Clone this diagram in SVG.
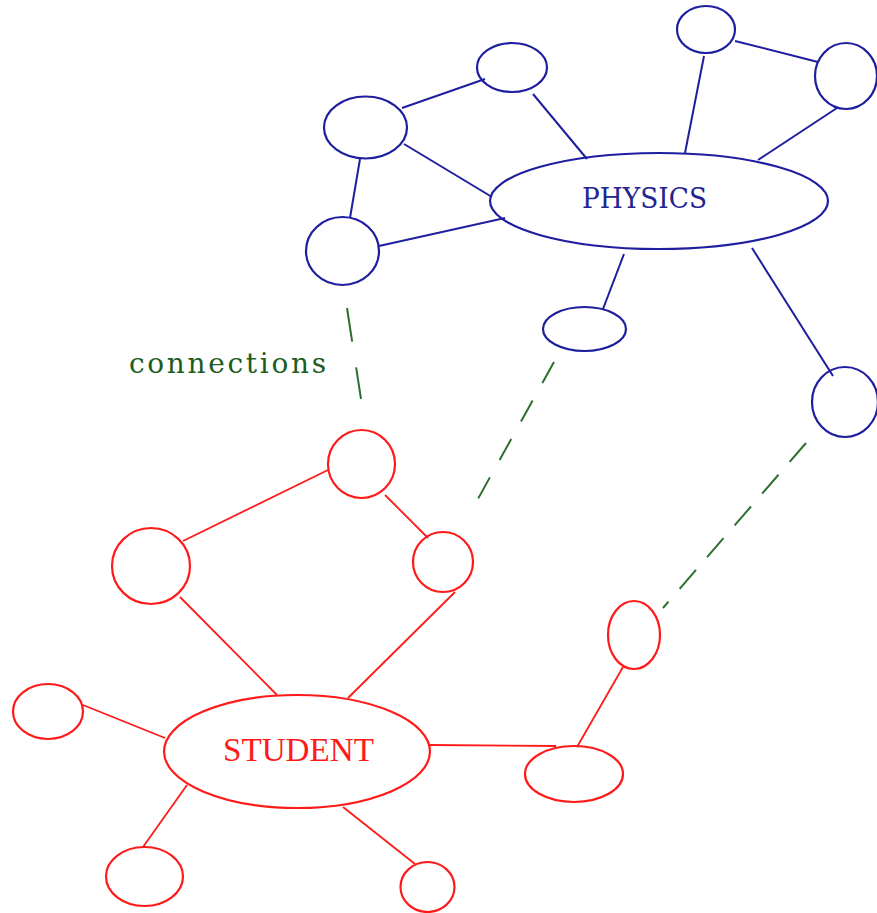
<svg xmlns="http://www.w3.org/2000/svg" width="877" height="913" viewBox="0 0 877 913">
  <style>
    .bg { fill: #ffffff; }
    .blue { fill: none; stroke: #1e1e9e; stroke-width: 2.2; }
    .red { fill: none; stroke: #ff1a1a; stroke-width: 2.2; }
    .blue-edge { stroke: #1e1e9e; stroke-width: 2; fill: none; }
    .red-edge { stroke: #ff1a1a; stroke-width: 1.8; fill: none; }
    .link { stroke: #2c6e2c; stroke-width: 2; fill: none; }
    .slab { font-family: "DejaVu Serif", "Liberation Serif", serif; font-size: 28px; }
    .roman { font-family: "Liberation Serif", "Times New Roman", serif; font-size: 34px; }
    .blue-text { fill: #24248e; }
    .red-text { fill: #ff1a1a; }
    .green-text { fill: #1f5c1f; }
  </style>
  <rect class="bg" x="0" y="0" width="877" height="913"/>

  <!-- connectors -->
  <g id="connectors">
    <!-- physics cluster -->
    <line class="blue-edge" x1="402" y1="108" x2="485" y2="79"/>
    <line class="blue-edge" x1="533" y1="94" x2="587" y2="159"/>
    <line class="blue-edge" x1="404" y1="144" x2="492" y2="197"/>
    <line class="blue-edge" x1="360" y1="159" x2="350" y2="218"/>
    <line class="blue-edge" x1="379" y1="246" x2="505" y2="218"/>
    <line class="blue-edge" x1="685" y1="153" x2="704" y2="56"/>
    <line class="blue-edge" x1="735" y1="41" x2="818" y2="62"/>
    <line class="blue-edge" x1="837" y1="108" x2="758" y2="160"/>
    <line class="blue-edge" x1="624" y1="254" x2="603" y2="309"/>
    <line class="blue-edge" x1="752" y1="248" x2="833" y2="376"/>
    <!-- student cluster -->
    <line class="red-edge" x1="328" y1="470" x2="183" y2="541"/>
    <line class="red-edge" x1="385" y1="495" x2="428" y2="538"/>
    <line class="red-edge" x1="180" y1="597" x2="277" y2="695"/>
    <line class="red-edge" x1="455" y1="592" x2="348" y2="698"/>
    <line class="red-edge" x1="83" y1="705" x2="165" y2="738"/>
    <line class="red-edge" x1="187" y1="785" x2="143" y2="847"/>
    <line class="red-edge" x1="343" y1="807" x2="415" y2="864"/>
    <line class="red-edge" x1="430" y1="745" x2="556" y2="746"/>
    <line class="red-edge" x1="577" y1="747" x2="623" y2="667"/>
    <!-- cross links -->
    <line class="link" x1="347" y1="308" x2="361" y2="399" stroke-dasharray="34 26"/>
    <line class="link" x1="554" y1="362" x2="469" y2="515" stroke-dasharray="24 20"/>
    <line class="link" x1="806" y1="443" x2="663" y2="608" stroke-dasharray="25 17"/>
  </g>

  <!-- physics cluster nodes -->
  <g id="physics">
    <ellipse class="blue" cx="659" cy="201" rx="169" ry="48"/>
    <text class="slab blue-text" x="582" y="208" textLength="125" lengthAdjust="spacingAndGlyphs">PHYSICS</text>
  </g>
  <g id="p-top"><ellipse class="blue" cx="706" cy="29.5" rx="29" ry="23.5"/></g>
  <g id="p-top-right"><ellipse class="blue" cx="846" cy="76" rx="31" ry="33"/></g>
  <g id="p-upper"><ellipse class="blue" cx="512" cy="67.5" rx="35" ry="24.5"/></g>
  <g id="p-left"><ellipse class="blue" cx="365.5" cy="127.5" rx="41.5" ry="31"/></g>
  <g id="p-lower-left"><ellipse class="blue" cx="342.5" cy="251" rx="36.5" ry="34"/></g>
  <g id="p-below"><ellipse class="blue" cx="584.5" cy="329" rx="41.5" ry="22"/></g>
  <g id="p-right"><ellipse class="blue" cx="845" cy="402" rx="33" ry="35"/></g>

  <!-- label for cross links -->
  <g id="connections-label">
    <text class="slab green-text" x="129" y="373" textLength="197" lengthAdjust="spacing">connections</text>
  </g>

  <!-- student cluster nodes -->
  <g id="student">
    <ellipse class="red" cx="297" cy="751.5" rx="133" ry="56.5"/>
    <text class="roman red-text" x="223" y="761" textLength="151" lengthAdjust="spacingAndGlyphs">STUDENT</text>
  </g>
  <g id="s-top"><ellipse class="red" cx="361.5" cy="464" rx="33.5" ry="34"/></g>
  <g id="s-left"><ellipse class="red" cx="151" cy="566" rx="39" ry="38"/></g>
  <g id="s-mid"><ellipse class="red" cx="443" cy="562" rx="30" ry="30"/></g>
  <g id="s-far-left"><ellipse class="red" cx="48" cy="711.5" rx="35" ry="27.5"/></g>
  <g id="s-bottom-left"><ellipse class="red" cx="144.5" cy="876.5" rx="38.5" ry="29.5"/></g>
  <g id="s-bottom-right"><ellipse class="red" cx="427.5" cy="887" rx="27" ry="25"/></g>
  <g id="s-right"><ellipse class="red" cx="574" cy="774" rx="49" ry="28"/></g>
  <g id="s-upper-right"><ellipse class="red" cx="634" cy="635" rx="26" ry="34"/></g>
</svg>
